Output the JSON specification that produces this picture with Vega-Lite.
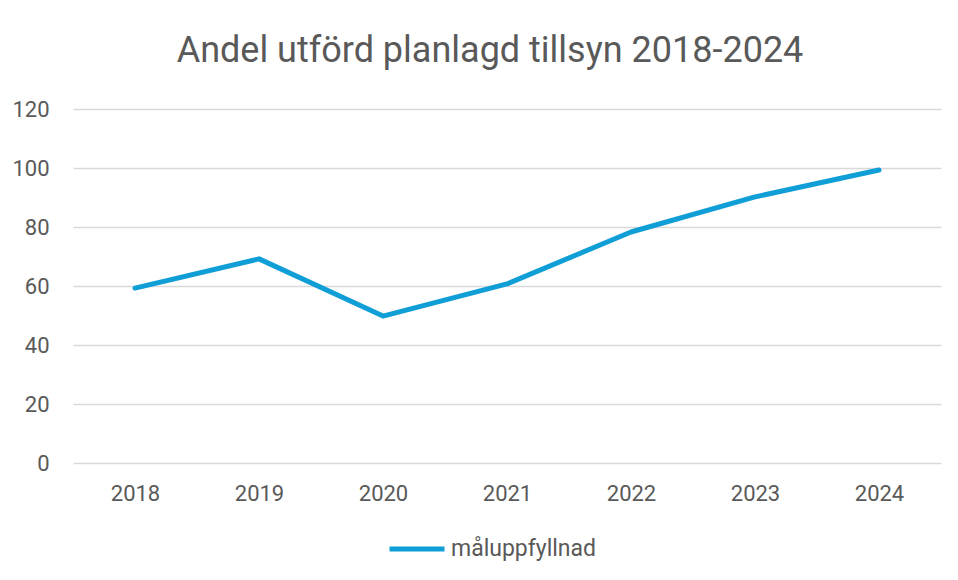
{
  "$schema": "https://vega.github.io/schema/vega-lite/v6.json",
  "autosize": "none",
  "width": 868,
  "height": 354,
  "padding": {"left": 73, "top": 109, "right": 17, "bottom": 117},
  "background": "white",
  "title": {
    "text": "Andel utförd planlagd tillsyn 2018-2024",
    "fontSize": 36,
    "font": "Roboto",
    "fontWeight": "normal",
    "color": "#595959",
    "anchor": "middle",
    "dx": -17,
    "offset": 28
  },
  "data": {
    "values": [
      {"år": "2018", "värde": 59.3, "serie": "måluppfyllnad"},
      {"år": "2019", "värde": 69.2, "serie": "måluppfyllnad"},
      {"år": "2020", "värde": 49.8, "serie": "måluppfyllnad"},
      {"år": "2021", "värde": 60.7, "serie": "måluppfyllnad"},
      {"år": "2022", "värde": 78.3, "serie": "måluppfyllnad"},
      {"år": "2023", "värde": 90.2, "serie": "måluppfyllnad"},
      {"år": "2024", "värde": 99.3, "serie": "måluppfyllnad"}
    ]
  },
  "mark": {"type": "line", "strokeWidth": 5, "strokeCap": "round", "strokeJoin": "round"},
  "encoding": {
    "x": {
      "field": "år",
      "type": "ordinal",
      "scale": {"type": "point", "padding": 0.5},
      "axis": {
        "title": null,
        "labelAngle": 0,
        "ticks": false,
        "domain": false,
        "grid": false,
        "labelPadding": 20,
        "labelFontSize": 22,
        "labelFont": "Roboto",
        "labelColor": "#595959"
      }
    },
    "y": {
      "field": "värde",
      "type": "quantitative",
      "scale": {"domain": [0, 120], "nice": false},
      "axis": {
        "title": null,
        "values": [0, 20, 40, 60, 80, 100, 120],
        "ticks": false,
        "domain": false,
        "grid": true,
        "gridColor": "#d9d9d9",
        "gridWidth": 1.3,
        "labelPadding": 24,
        "labelFontSize": 22,
        "labelFont": "Roboto",
        "labelColor": "#595959"
      }
    },
    "color": {
      "field": "serie",
      "type": "nominal",
      "scale": {"range": ["#0F9ED5"]},
      "legend": {
        "title": null,
        "orient": "none",
        "legendX": 314,
        "legendY": 410,
        "symbolType": "stroke",
        "symbolSize": 3025,
        "symbolStrokeWidth": 5,
        "labelFontSize": 23,
        "labelFont": "Roboto",
        "labelColor": "#595959",
        "labelOffset": 4
      }
    }
  },
  "config": {"view": {"stroke": null}}
}
